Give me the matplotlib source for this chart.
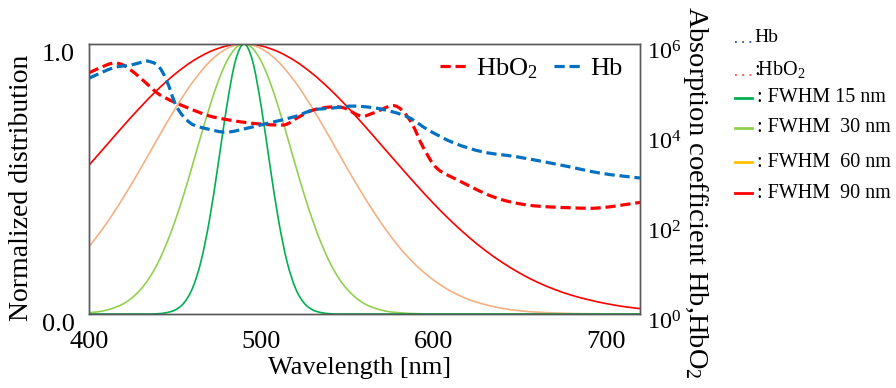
import matplotlib
matplotlib.use("Agg")
import matplotlib.pyplot as plt
from matplotlib.lines import Line2D
from matplotlib.patches import PathPatch
from matplotlib.path import Path
from matplotlib.ticker import FixedLocator, FixedFormatter
from matplotlib.transforms import ScaledTranslation
import numpy as np

plt.rcParams["font.family"] = ["Liberation Serif", "DejaVu Serif"]
plt.rcParams["mathtext.fontset"] = "custom"
plt.rcParams["mathtext.rm"] = "Liberation Serif"
plt.rcParams["mathtext.it"] = "Liberation Serif:italic"

# ---- normalized source spectra (peak at 490 nm) ----
wl_fine = np.arange(400, 725, 5)
fwhm15 = [0, 0, 0, 0, 0, 0, 0, 0,
          0.001, 0.005, 0.015, 0.040, 0.094, 0.194, 0.350, 0.554, 0.769, 0.937,
          1.0,
          0.937, 0.769, 0.554, 0.350, 0.194, 0.094, 0.040, 0.015, 0.005, 0.001,
          0, 0, 0, 0, 0, 0, 0, 0, 0, 0, 0, 0, 0, 0, 0, 0, 0, 0, 0, 0,
          0, 0, 0, 0, 0, 0, 0, 0, 0, 0, 0, 0, 0, 0, 0, 0]
fwhm30 = [0.005, 0.008, 0.014, 0.024, 0.038, 0.060, 0.091, 0.133, 0.189, 0.260,
          0.345, 0.442, 0.549, 0.660, 0.766, 0.861, 0.936, 0.984, 1.0, 0.984,
          0.936, 0.861, 0.766, 0.660, 0.549, 0.442, 0.345, 0.260, 0.189, 0.133,
          0.091, 0.060, 0.038, 0.024, 0.014, 0.008, 0.005, 0.0025, 0.0013, 0.0006,
          0.0003, 0, 0, 0, 0, 0, 0, 0, 0, 0, 0, 0, 0, 0, 0, 0, 0, 0, 0, 0,
          0, 0, 0, 0, 0]

wl_coarse = np.arange(400, 730, 10)
fwhm60 = [0.249, 0.334, 0.432, 0.539, 0.651, 0.760, 0.857, 0.934, 0.983, 1.0,
          0.983, 0.934, 0.857, 0.760, 0.651, 0.539, 0.432, 0.334, 0.249, 0.180,
          0.126, 0.085, 0.055, 0.035, 0.021, 0.012, 0.007, 0.004, 0.002, 0.001,
          0.0005, 0.0002, 0.0001]
fwhm90 = [0.551, 0.624, 0.697, 0.767, 0.832, 0.889, 0.936, 0.971, 0.993, 1.0,
          0.993, 0.971, 0.936, 0.889, 0.832, 0.767, 0.697, 0.624, 0.551, 0.479,
          0.410, 0.346, 0.288, 0.236, 0.191, 0.152, 0.119, 0.092, 0.070, 0.053,
          0.039, 0.028, 0.020]

# ---- absorption coefficients ----
wl_hbo2 = [400, 410, 415, 420, 425, 430, 435, 440, 445, 450, 460, 470, 480, 490,
           500, 510, 515, 522, 530, 540, 548, 558, 566, 576, 582, 588, 594, 602,
           614, 635, 655, 680, 697, 720]
hbo2 = [229000, 339000, 380000, 339000, 251000, 174000, 117000, 79400, 61700,
        50100, 34700, 25100, 20900, 18200, 16600, 15800, 16600, 24000, 33900,
        39800, 38000, 25100, 30200, 42700, 33100, 15800, 5130, 1740, 955, 398,
        263, 229, 229, 302]

wl_hb = [400, 414, 424, 430, 434, 440, 445, 451, 459, 469, 480, 492, 504, 519,
         530, 542, 554, 569, 585, 597, 612, 629, 649, 674, 697, 720]
hb = [174000, 295000, 339000, 389000, 417000, 331000, 158000, 39800, 17400,
      12900, 11000, 13500, 17400, 24000, 33900, 38000, 41700, 36300, 24000,
      12300, 6310, 3980, 3090, 2040, 1350, 1050]

x_ticks = [400, 500, 600, 700]
left_ticks = [0.0, 1.0]
left_tick_labels = ["0.0", "1.0"]
right_ticks = [1, 1e2, 1e4, 1e6]
right_tick_labels = [r"$\mathregular{10^{0}}$", r"$\mathregular{10^{2}}$",
                     r"$\mathregular{10^{4}}$", r"$\mathregular{10^{6}}$"]

C_15, C_30, C_60, C_90 = "#00B050", "#92D050", "#F4B183", "#FF0000"
C_HB, C_HBO2 = "#0070C0", "#FF0000"
SPINE = "#595959"
DASH = (0, (3.2, 1.5))


def smooth_path(x, y, logy=False):
    """Smoothed (Catmull-Rom style) Bezier path through the given points."""
    x = np.asarray(x, float)
    y = np.asarray(y, float)
    yy = np.log10(y) if logy else y
    p = np.column_stack([x, yy])
    pe = np.vstack([p[0], p, p[-1]])
    verts = [p[0]]
    codes = [Path.MOVETO]
    for i in range(len(p) - 1):
        p0, p1, p2, p3 = pe[i], pe[i + 1], pe[i + 2], pe[i + 3]
        verts += [p1 + (p2 - p0) / 6, p2 - (p3 - p1) / 6, p2]
        codes += [Path.CURVE4] * 3
    v = np.array(verts)
    if logy:
        v[:, 1] = 10 ** v[:, 1]
    return Path(v, codes)


def draw_smooth(axis, x, y, color, lw, ls="-", logy=False):
    axis.add_patch(PathPatch(smooth_path(x, y, logy), fill=False,
                             edgecolor=color, linewidth=lw, linestyle=ls,
                             capstyle="butt", joinstyle="round"))


fig = plt.figure(figsize=(8.96, 3.88), dpi=100)
ax = fig.add_axes([89 / 896, 74 / 388, 551 / 896, 270 / 388])

draw_smooth(ax, wl_coarse, fwhm90, C_90, 1.2)
draw_smooth(ax, wl_coarse, fwhm60, C_60, 1.2)
draw_smooth(ax, wl_fine, fwhm30, C_30, 1.2)
draw_smooth(ax, wl_fine, fwhm15, C_15, 1.2)

ax.set_xlim(400, 720)
ax.set_ylim(0, 1)
ax.xaxis.set_major_locator(FixedLocator(x_ticks))
ax.yaxis.set_major_locator(FixedLocator(left_ticks))
ax.yaxis.set_major_formatter(FixedFormatter(left_tick_labels))
ax.tick_params(axis="both", length=0, labelsize=19)
ax.tick_params(axis="x", pad=12)
ax.tick_params(axis="y", pad=10)
for lab in ax.get_yticklabels():
    lab.set_verticalalignment("top")
for s in ax.spines.values():
    s.set_color(SPINE)
    s.set_linewidth(1.0)

ax2 = ax.twinx()
ax2.set_yscale("log")
ax2.set_ylim(1, 1e6)
ax2.set_xlim(400, 720)
draw_smooth(ax2, wl_hbo2, hbo2, C_HBO2, 2.3, DASH, logy=True)
draw_smooth(ax2, wl_hb, hb, C_HB, 2.3, DASH, logy=True)
ax2.yaxis.set_major_locator(FixedLocator(right_ticks))
ax2.yaxis.set_major_formatter(FixedFormatter(right_tick_labels))
ax2.yaxis.set_minor_locator(FixedLocator([]))
ax2.tick_params(axis="y", length=0, labelsize=17.5, pad=5)
lift = ScaledTranslation(0, 3 / 100, fig.dpi_scale_trans)
for lab in ax2.get_yticklabels():
    lab.set_verticalalignment("top")
    lab.set_transform(lab.get_transform() + lift)
for s in ax2.spines.values():
    s.set_color(SPINE)
    s.set_linewidth(1.0)

h_hbo2 = Line2D([], [], color=C_HBO2, lw=2.3, linestyle=DASH)
h_hb = Line2D([], [], color=C_HB, lw=2.3, linestyle=DASH)
ax2.legend(handles=[h_hbo2, h_hb], labels=[r"HbO$_2$", "Hb"],
           loc="upper right", ncol=2, frameon=False, fontsize=19,
           handlelength=1.0, handletextpad=0.35, columnspacing=0.65,
           bbox_to_anchor=(0.987, 0.995), borderaxespad=0.0, borderpad=0.4)

fig.text(22 / 896, 1 - 188 / 388, "Normalized distribution", rotation=90,
         ha="center", va="center", fontsize=20)
fig.text(695 / 896, 1 - 192 / 388, r"Absorption coefficient Hb,HbO$_2$",
         rotation=270, ha="center", va="center", fontsize=20.5)
fig.text(360 / 896, 1 - 368 / 388, "Wavelength [nm]", ha="center",
         va="center", fontsize=19)

# side key
key_rows = [
    (37, "#2F5597", ":", "Hb", 14),
    (70, "#FF5050", ":", r":HbO$_2$", 14.5),
    (98, C_15, "-", ": FWHM 15 nm", 14.5),
    (128, C_30, "-", ": FWHM  30 nm", 14.5),
    (162, "#FFC000", "-", ": FWHM  60 nm", 14.5),
    (193, C_90, "-", ": FWHM  90 nm", 14.5),
]
for y, col, ls, txt, fs in key_rows:
    yf = 1 - y / 388
    if ls == ":":
        fig.add_artist(Line2D([735 / 896, 752 / 896], [yf - 0.014, yf - 0.014],
                              color=col, lw=1.3, linestyle=(0, (1, 3))))
        fig.text(754 / 896, yf, txt, ha="left", va="center", fontsize=fs)
    else:
        fig.add_artist(Line2D([735 / 896, 752 / 896], [yf, yf], color=col,
                              lw=2.0))
        fig.text(757 / 896, yf, txt, ha="left", va="center", fontsize=fs)

fig.savefig("out.png", dpi=100)
